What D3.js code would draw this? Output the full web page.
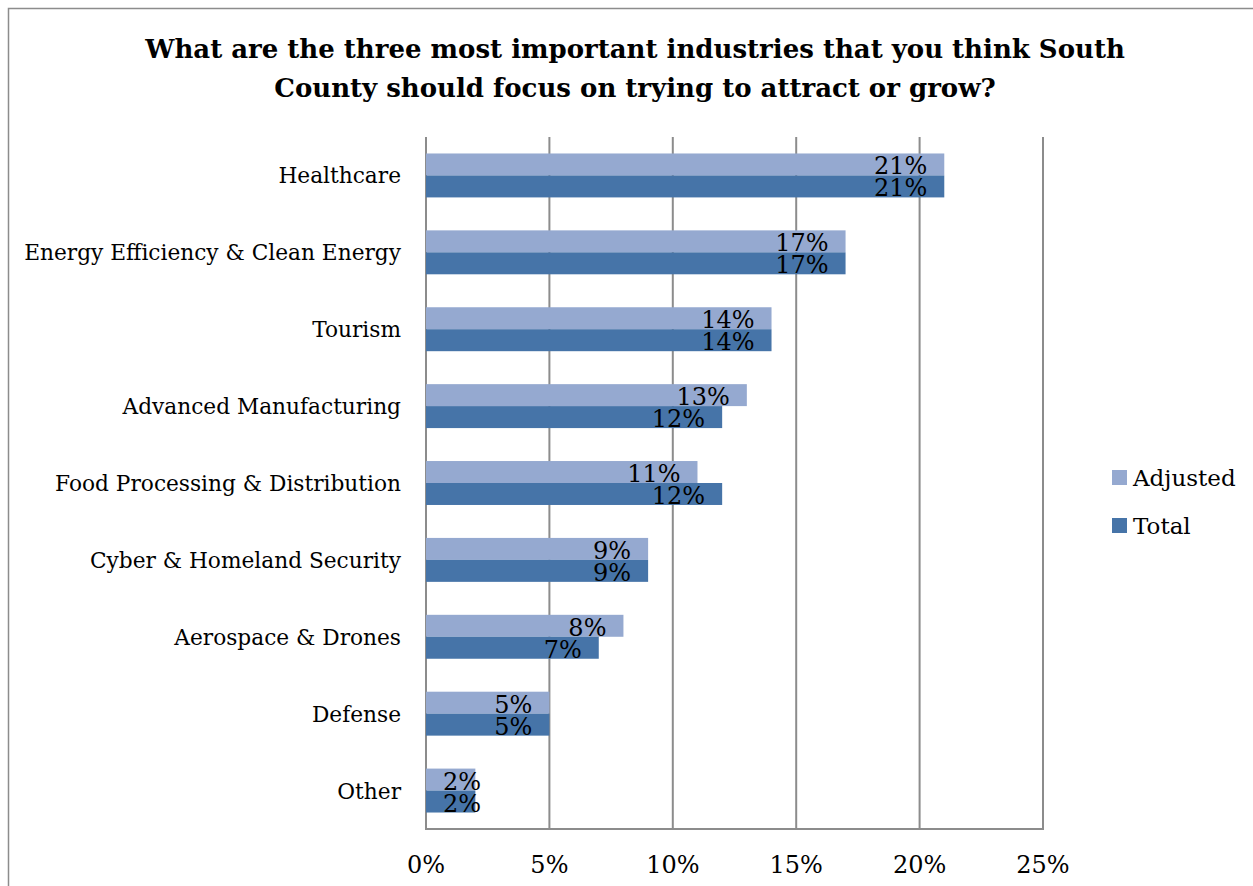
<!DOCTYPE html>
<html>
<head>
<meta charset="utf-8">
<script src="https://cdn.jsdelivr.net/npm/d3@7"></script>
<style>
  body { margin: 0; background: #fff; }
</style>
</head>
<body>
<div id="chart-div"></div>
<script>
// データ ---------------------------------------------------------------
const categories = ['Healthcare', 'Energy Efficiency & Clean Energy', 'Tourism',
  'Advanced Manufacturing', 'Food Processing & Distribution', 'Cyber & Homeland Security',
  'Aerospace & Drones', 'Defense', 'Other'];
const adjusted = [21, 17, 14, 13, 11, 9, 8, 5, 2];
const total = [21, 17, 14, 12, 12, 9, 7, 5, 2];
const seriesNames = ['Adjusted', 'Total'];
const tickValues = [0, 5, 10, 15, 20, 25];
const titleLines = ['What are the three most important industries that you think South',
  'County should focus on trying to attract or grow?'];

const width = 1253, height = 886;
const colors = {Adjusted: '#95a9d0', Total: '#4674a8'};
const serif = '"DejaVu Serif", serif';
// 描画領域 --------------------------------------------------------------
const plot = {left: 426, right: 1043, top: 137, bottom: 829};

const svg = d3.select('#chart-div')
  .append('svg')
  .attr('width', width)
  .attr('height', height);

// 外枠
svg.append('rect')
  .attr('x', 8.5).attr('y', 8.5)
  .attr('width', width + 20).attr('height', height + 20)
  .attr('fill', 'none')
  .attr('stroke', '#8c8c8c')
  .attr('stroke-width', 1.5);

// タイトル
svg.append('text')
  .attr('text-anchor', 'middle')
  .style('font-family', serif)
  .style('font-weight', 'bold')
  .style('font-size', '26px')
  .selectAll('tspan')
  .data(titleLines)
  .enter()
  .append('tspan')
  .attr('x', 635)
  .attr('y', (d, i) => 58 + i * 39)
  .text(d => d);

const x = d3.scaleLinear().domain([0, 25]).range([plot.left, plot.right]);
const y = d3.scaleBand().domain(categories).range([plot.top, plot.bottom]);
const inner = d3.scaleBand().domain(seriesNames)
  .range([0, y.bandwidth()]).paddingOuter(0.75);

// グリッド線
svg.append('g')
  .selectAll('line')
  .data(tickValues)
  .enter()
  .append('line')
  .attr('x1', d => x(d)).attr('x2', d => x(d))
  .attr('y1', plot.top).attr('y2', plot.bottom)
  .attr('stroke', '#8c8c8c')
  .attr('stroke-width', 2);

// 棒
const rows = categories.map((c, i) => ({cat: c, values: [
  {name: 'Adjusted', value: adjusted[i]},
  {name: 'Total', value: total[i]}
]}));

const groups = svg.append('g')
  .selectAll('g')
  .data(rows)
  .enter()
  .append('g')
  .attr('transform', d => 'translate(0,' + y(d.cat) + ')');

groups.selectAll('rect')
  .data(d => d.values)
  .enter()
  .append('rect')
  .attr('x', x(0))
  .attr('y', d => inner(d.name))
  .attr('width', d => x(d.value) - x(0))
  .attr('height', inner.bandwidth())
  .attr('fill', d => colors[d.name]);

// 値ラベル（棒の端から17px内側、はみ出す時は左端から17px）
groups.selectAll('text')
  .data(d => d.values)
  .enter()
  .append('text')
  .style('font-family', serif)
  .style('font-size', '24px')
  .attr('fill', '#000')
  .attr('y', d => inner(d.name) + inner.bandwidth() - 1)
  .text(d => d.value + '%')
  .each(function (d) {
    const w = this.getComputedTextLength();
    let right = x(d.value) - 17;
    if (right - w < x(0) + 17) right = x(0) + 17 + w;
    d3.select(this).attr('x', right - w);
  });

// 下の軸線
svg.append('line')
  .attr('x1', plot.left - 1).attr('x2', plot.right + 1)
  .attr('y1', plot.bottom).attr('y2', plot.bottom)
  .attr('stroke', '#8c8c8c')
  .attr('stroke-width', 2);

// 目盛ラベル
svg.append('g')
  .selectAll('text')
  .data(tickValues)
  .enter()
  .append('text')
  .attr('x', d => x(d))
  .attr('y', 873)
  .attr('text-anchor', 'middle')
  .style('font-family', serif)
  .style('font-size', '24px')
  .attr('fill', '#000')
  .text(d => d + '%');

// カテゴリーラベル
svg.append('g')
  .selectAll('text')
  .data(categories)
  .enter()
  .append('text')
  .attr('x', 401)
  .attr('y', d => y(d) + y.bandwidth() / 2 + 8)
  .attr('text-anchor', 'end')
  .style('font-family', serif)
  .style('font-size', '21.7px')
  .attr('fill', '#000')
  .text(d => d);

// 凡例
const legend = svg.append('g')
  .selectAll('g')
  .data(seriesNames)
  .enter()
  .append('g')
  .attr('transform', (d, i) => 'translate(1112,' + (470 + i * 48) + ')');
legend.append('rect')
  .attr('width', 15).attr('height', 15)
  .attr('fill', d => colors[d]);
legend.append('text')
  .attr('x', 21).attr('y', 16)
  .style('font-family', serif)
  .style('font-size', '23px')
  .attr('fill', '#000')
  .text(d => d);
</script>
</body>
</html>
